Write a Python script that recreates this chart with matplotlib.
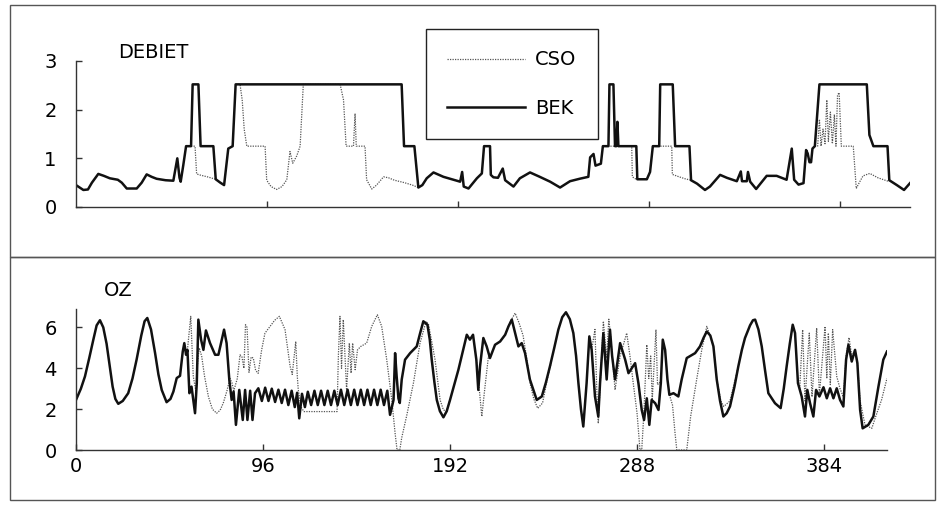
import matplotlib.pyplot as plt
from matplotlib.patches import Rectangle
import numpy as np

plt.rcParams['font.family'] = ['DejaVu Sans']

nan = np.nan

# DEBIET - BEK (tijd, debiet)
deb_bek_t = [0, 3.7, 6, 8, 11.2, 14, 17, 21, 23, 25.5, 30.5, 33, 35.5, 38, 40.5, 45, 48.9, 50.9, 52, 52.6,
             53.9, 55.3, 57.8, 58.6, 61.5, 62.6, 69, 70.2, 72.5, 74.4, 76.5, 78.7, 80.2, 163.6, 164.8, 170,
             172, 174, 176.2, 179.6, 184.6, 190.5, 193, 194, 194.8, 197.2, 201.4, 203.9, 205, 208, 208.4,
             209.7, 212, 214.4, 215.6, 219.8, 223, 228.1, 233, 238.2, 243.2, 248.2, 253, 257.4, 258.3, 260,
             261, 263.7, 264.7, 267.5, 268, 270, 270.8, 271.5, 272, 272.5, 281.5, 282, 286.8, 288.4, 289.8,
             293, 293.5, 299.8, 301, 308.2, 309, 312, 316, 318.5, 323.6, 327, 332, 334, 334.6, 337, 337.6,
             338.7, 341.7, 347, 352, 357, 359.6, 360.8, 363, 365.5, 366.8, 367.6, 368.5, 369.3, 370, 371.2,
             373.5, 397.3, 398.6, 400.6, 407.7, 408.6, 412.4, 416, 419]
deb_bek_v = [0.45, 0.35, 0.36, 0.5, 0.68, 0.64, 0.59, 0.56, 0.5, 0.38, 0.38, 0.5, 0.67, 0.62, 0.58, 0.55, 0.54, 1.0, 0.6, 0.52,
             0.86, 1.25, 1.25, 2.52, 2.52, 1.25, 1.25, 0.57, 0.5, 0.45, 1.2, 1.25, 2.52, 2.52, 1.25, 1.25,
             0.4, 0.45, 0.59, 0.71, 0.62, 0.55, 0.52, 0.72, 0.42, 0.38, 0.59, 0.69, 1.25, 1.25, 0.66,
             0.61, 0.6, 0.79, 0.55, 0.42, 0.59, 0.71, 0.62, 0.52, 0.40, 0.53, 0.58, 0.62, 1.02, 1.09,
             0.85, 0.89, 1.25, 1.25, 2.52, 2.52, 1.25, 1.25, 1.75, 1.25, 1.25, 0.57, 0.57, 0.72, 1.25,
             1.25, 2.52, 2.52, 1.25, 1.25, 0.55, 0.48, 0.35, 0.42, 0.66, 0.6, 0.53, 0.73, 0.53, 0.53, 0.72,
             0.52, 0.37, 0.64, 0.64, 0.56, 1.2, 0.56, 0.46, 0.49, 1.17, 1.1, 0.92, 0.92, 1.2, 1.25,
             2.52, 2.52, 1.48, 1.25, 1.25, 0.55, 0.45, 0.35, 0.49]

# DEBIET - CSO (alleen waar het afwijkt van BEK)
deb_cso_t = [57.8, 59.8, 60.6, 62, 66, 70.2, nan,
             80.2, 82.4, 83.5, 84.5, 85.8, 95, 95.8, 98, 100.8, 103.5, 105.9, 107.5, 108.9, 110.9, 112.6,
             114.2, 132.7, 134.4, 135.7, 139.4, 140.2, 140.8, 145.2, 146, 148.6, 151, 154.5, 157, 160, 165,
             169, 172, nan,
             264.7, 279.2, 279.5, 281, 282, nan,
             289.8, 299.3, 299.6, 303, 306, 309, nan,
             371.2, 372.6, 373.5, 374.3, 375.3, 376.3, 377.2, 378, 379, 380, 381, 381.8, 382.6, 383.4, 384.5,
             390.5, 392, 393.5, 395.4, 398.8, 402.9, 408, 408.6]
deb_cso_v = [1.25, 1.25, 0.68, 0.66, 0.62, 0.57, nan,
             2.52, 2.52, 2.2, 1.6, 1.25, 1.25, 0.55, 0.42, 0.36, 0.42, 0.56, 1.14, 0.9, 1.05, 1.25,
             2.52, 2.52, 2.2, 1.25, 1.25, 1.92, 1.25, 1.25, 0.56, 0.37, 0.45, 0.62, 0.6, 0.55, 0.5,
             0.45, 0.4, nan,
             1.25, 1.25, 0.62, 0.58, 0.57, nan,
             1.25, 1.25, 0.67, 0.62, 0.58, 0.55, nan,
             1.25, 1.25, 1.8, 1.25, 1.6, 1.3, 2.2, 1.35, 1.95, 1.3, 1.9, 1.25, 2.3, 2.35, 1.25,
             1.25, 0.38, 0.5, 0.64, 0.69, 0.6, 0.53, 0.55]

# OZ - BEK
oz_bek_t = [0, 2.5, 4.6, 6.8, 8.9, 10.6, 12.3, 14, 15.7, 17.3, 18.8, 20.2, 21.7, 24, 26.8, 29, 31.1, 33.5, 35.2,
            36.6, 38.5, 40.6, 42.3, 44, 46.5, 48.5, 50, 51.7, 53.4, 54.8, 55.6,
            56.5, 57.2, 58.2, 59.3, 61.1, 62, 62.8, 64.2, 65.4, 66.7, 68.8, 71.4, 73.1, 76, 77.3, 78.7, 79.9,
            80.9, 82.1, 83.8, 85.6, 86.8, 88, 89.4, 90.6, 91.9,
            93.6, 95.4, 97.1, 98.8, 100.5, 102.2, 103.9, 105.6, 107.3, 109, 110.7, 112.3, 113.5, 114.6, 116,
            117.5, 119, 120.7, 122.4, 124.1, 125.8, 127.5, 129.2, 130.9, 132.6, 134.3, 136, 137.7, 139.4,
            141.1, 142.8, 144.5, 146.2, 147.9, 149.6, 151.3, 153, 154.7, 156.4, 158.1, 159.8, 161.2,
            163, 163.8, 164.6, 165.5, 166.2, 167.2, 168.9, 171.5, 174.9, 176.6, 178.3, 180.4, 181.6, 182.6,
            184, 185.2, 186.8, 188.6, 190.3, 192, 194.2, 196.3, 198.5, 200.6, 202.2, 203.8, 205.5, 206.5,
            207.4, 209.1, 210.8, 212.5, 215.1, 217.7,
            220.3, 222, 223.7, 225.4, 227.1, 228.8, 230.5, 233, 236.5, 239.1, 241.2, 243.3, 245.5, 247.6,
            249.6, 251.5, 253.5, 255.3, 256.7, 257.9, 259.2, 260.4, 262.1, 263.5, 264.7, 266.4, 268.1, 269,
            270.7, 272.4, 274.1, 275.2, 276.7, 279.3,
            281.9, 283.6, 287, 288.7, 290.4, 291.6, 293, 294.3, 295.5, 297.3, 299, 300.2, 301.2, 302.4,
            303.6, 304.6, 306.7, 309.2, 310.9, 313.5, 317.8, 320.3, 322.2, 323.8, 325.6, 327.2, 328.9, 330.6,
            332.3, 334, 335.7, 338, 340, 341.8, 343.4, 346, 347.5, 348.6, 350.3, 352, 353.7, 355.4, 358.8,
            361.7, 363.3, 364.8, 366.4, 367.9, 369.1, 370.6, 372.5, 374.2, 375.4, 376.8,
            378.5, 379.9, 381.6, 383.7, 385.4, 387.1, 388.8, 390.5, 392.2, 393.9, 395.3, 396.5, 398.2, 399.9,
            401.1, 402.5, 403.8, 406.7, 409.3, 411.9, 414.4, 416.3]
oz_bek_v = [2.45, 3.0, 3.6, 4.5, 5.4, 6.1, 6.35, 6.0, 5.2, 4.1, 3.1, 2.5, 2.26, 2.4, 2.78, 3.5, 4.42, 5.6, 6.3,
            6.46, 5.9, 4.74, 3.7, 2.94, 2.34, 2.5, 2.86, 3.52, 3.63, 4.82, 5.23,
            4.66, 4.9, 2.78, 3.1, 1.8, 3.27, 6.38, 5.4, 4.9, 5.85, 5.23, 4.66, 4.66, 5.89, 5.23, 3.43, 2.45,
            2.86, 1.23, 2.94, 1.47, 2.94, 1.47, 2.9, 1.47, 2.78,
            3.02, 2.4, 3.05, 2.4, 3.0, 2.35, 2.95, 2.3, 2.95, 2.2, 2.9, 2.1, 2.8, 1.55, 2.75,
            2.1, 2.85, 2.2, 2.9, 2.2, 2.9, 2.2, 2.9, 2.2, 2.9, 2.2, 2.95, 2.2, 2.95,
            2.2, 2.95, 2.2, 2.95, 2.2, 2.95, 2.2, 2.95, 2.2, 2.95, 2.2, 2.9, 1.72,
            2.45, 4.74, 3.6, 2.53, 2.3, 3.45, 4.42, 4.74, 5.07, 5.7, 6.3, 6.13, 5.4, 4.42,
            3.3, 2.45, 1.9, 1.6, 1.9, 2.45, 3.2, 3.93, 4.8, 5.64, 5.4, 5.64, 4.42, 2.94,
            4.1, 5.48, 5.07, 4.5, 5.15, 5.31,
            5.64, 6.05, 6.38, 5.72, 5.07, 5.23, 4.74, 3.45, 2.45, 2.62, 3.3, 4.1, 5.0, 5.89,
            6.5, 6.74, 6.4, 5.72, 4.6, 3.27, 2.0, 1.15, 3.27, 5.56, 4.9, 2.62, 1.64, 3.27,
            5.72, 3.45, 5.89, 4.6, 3.45, 5.23,
            4.42, 3.76, 4.25, 3.27, 1.96, 1.47, 2.53, 1.23, 2.45, 2.29, 1.96, 3.27, 5.4, 4.9,
            3.45, 2.7, 2.78, 2.62, 3.45, 4.5, 4.74, 5.07, 5.5, 5.8, 5.6, 5.07, 3.45, 2.4,
            1.64, 1.8, 2.13, 3.1, 4.1, 4.9, 5.48, 6.1, 6.35, 6.38, 5.9, 5.07, 3.9, 2.78, 2.29,
            2.05, 3.0, 4.1, 5.2, 6.13, 5.72, 3.27, 2.62, 1.64, 2.94, 2.29,
            1.64, 2.94, 2.62, 3.07, 2.53, 3.02, 2.53, 3.02, 2.45, 2.13, 4.42, 5.15, 4.33, 4.9,
            4.25, 1.96, 1.06, 1.23, 1.64, 3.1, 4.42, 4.82]

# OZ - CSO (alleen waar het afwijkt van BEK)
oz_cso_t = [57.2, 58.9, 60.2, 61.5, 62.2, 63.2, 64.5, 66, 68, 70, 72.2, 74, 75.6, 77.5, 79, 80, 81, 82.8, 84.2,
            85.2, 86.2, 87, 87.8, 88.8, 89.9, 91, 92.2, 93.5, 95.3, 97, 99.6, 102, 104.4, 107.3, 109.9, 111,
            112.8, 113.6, 114.1, 115.5, 117, 134, 134.7, 135.5, 136.3, 137.2, 138.9, 140.3, 141.2, 142, 143.3,
            144.5, 146.2, 149.2, 151.8, 154.7, 156.9, 159.5, 162.1, 163.8, 164.8, 166.2, 167.2, 169.8, 173.2,
            176.6, 179.7, 181, 184.3, 186.9, 188.6, 190.2, 192, nan,
            205.5, 206.8, 208.3, 209.6, 211.7, 212.5, nan,
            220.3, 222.5, 225.4, 227.5, 229.5, 231.5, 233, 235, 237, 239.5, 242, 244, nan,
            264.7, 266.4, 267.3, 268.1, 269, 270.7, 272.4, 273.5, 274.5, 276.7, 279.3, 282.7, 284.5, 286, 288,
            289.5, 290.4, 291.5, 293, 294, 295, 295.8, 297.7, 298.5, 299.5, 300.2, nan,
            304.6, 306.2, 307.5, 308.4, 313.5, 315.5, 318.6, 321.2, 323.8, 325.5, 327.2, 328.9, 331, 332.5,
            335.7, 340, nan,
            371.5, 373, 374.2, 376.4, 377.8, 380.2, 381.6, 384.5, 385.4, 386.2, 387.2, 388.4, 390.5, 392.2,
            393.9, 395.3, 396.8, 398.2, 399.9, 401.1, 402.5, 405, 408.5, 410.5, 413.5, 416.3]
oz_cso_v = [4.9, 6.54, 3.6, 2.9, 4.0, 5.0, 4.6, 3.6, 2.6, 2.0, 1.8, 1.95, 2.3, 2.9, 3.5, 3.3, 2.9, 3.5, 4.66,
            4.55, 4.0, 6.13, 6.0, 3.8, 4.55, 4.5, 3.9, 3.75, 4.9, 5.72, 6.05, 6.35, 6.54, 5.89, 4.1, 3.7,
            5.31, 3.6, 2.94, 2.1, 1.88, 1.88, 4.66, 6.54, 4.0, 6.38, 2.94, 5.23, 3.76, 5.23, 3.93,
            4.9, 5.07, 5.23, 6.05, 6.62, 6.05, 4.42, 2.45, 0.82, 0, 0, 0.6, 1.7, 3.27,
            5.23, 6.3, 6.13, 4.42, 2.45, 1.96, 1.9, 2.45, nan,
            4.42, 3.2, 1.64, 2.8, 4.58, 4.5, nan,
            5.64, 6.2, 6.7, 6.2, 5.6, 4.4, 3.3, 2.5, 2.04, 2.3, 3.5, 4.3, nan,
            4.9, 5.9, 3.0, 1.3, 3.0, 6.3, 4.5, 6.4, 5.5, 2.94, 4.6, 5.72, 4.5, 3.3, 1.8,
            0, 0, 1.8, 5.15, 3.5, 4.6, 2.45, 5.89, 3.2, 3.3, 3.27, nan,
            2.7, 2.2, 0.82, 0, 0, 1.64, 3.45, 4.9, 6.05, 5.6, 5.07, 3.45, 2.4, 2.13,
            2.4, 4.1, nan,
            3.0, 5.89, 2.4, 5.72, 2.6, 5.97, 2.7, 6.05, 3.5, 5.72, 3.2, 5.89, 3.6, 3.0,
            2.6, 4.6, 5.5, 4.6, 4.9, 4.25, 2.4, 1.23, 1.06, 1.64, 2.45, 3.51]

x_ticks = [0, 96, 192, 288, 384]

W, H = 943, 507
fig = plt.figure(figsize=(W / 100, H / 100), dpi=100)

# kaders rond de twee panelen
for y0, y1 in [(5, 257), (257, 500)]:
    fig.patches.append(Rectangle((10 / W, 1 - y1 / H), 925 / W, (y1 - y0) / H,
                                 transform=fig.transFigure, fill=False,
                                 edgecolor='#555555', linewidth=1.0))

ax1 = fig.add_axes([76 / W, 1 - 207 / H, (910 - 76) / W, 146 / H])
ax2 = fig.add_axes([76 / W, 1 - 450 / H, (887 - 76) / W, 141 / H])

cso_style = dict(color='#555555', linewidth=0.9, linestyle=(0, (1, 1)))
bek_style = dict(color='#111111', linewidth=1.8)

ax1.plot(deb_cso_t, deb_cso_v, label='CSO', **cso_style)
ax1.plot(deb_bek_t, deb_bek_v, label='BEK', **bek_style)
ax2.plot(oz_cso_t, oz_cso_v, **cso_style)
ax2.plot(oz_bek_t, oz_bek_v, **bek_style)

ax1.set_xlim(0, 419)
ax1.set_ylim(0, 3)
ax1.set_yticks([0, 1, 2, 3])
ax1.set_xticks(x_ticks[1:])
ax1.set_xticklabels([])

ax2.set_xlim(0, 416.3)
ax2.set_ylim(0, 6.9)
ax2.set_yticks([0, 2, 4, 6])
ax2.set_xticks(x_ticks)

for ax in (ax1, ax2):
    for s in ('top', 'right'):
        ax.spines[s].set_visible(False)
    for s in ('left', 'bottom'):
        ax.spines[s].set_color('#333333')
        ax.spines[s].set_linewidth(1.0)
    ax.tick_params(direction='in', length=4, width=1, color='#333333', labelsize=14)
    ax.tick_params(axis='y', pad=14)
    ax.tick_params(axis='x', pad=5)
    ax.set_facecolor('none')

fig.text(118 / W, 1 - 52 / H, 'DEBIET', fontsize=14, va='center', ha='left')
fig.text(104 / W, 1 - 291 / H, 'OZ', fontsize=14, va='center', ha='left')

leg = ax1.legend(loc='upper left', bbox_to_anchor=(426 / W, 1 - 29 / H),
                 bbox_transform=fig.transFigure, fontsize=14, frameon=True,
                 fancybox=False, edgecolor='#222222', framealpha=1,
                 borderaxespad=0, borderpad=1.1, labelspacing=1.5,
                 handlelength=4.0, handletextpad=0.5)
leg.get_frame().set_linewidth(1.0)

fig.savefig('out.png', dpi=100)
